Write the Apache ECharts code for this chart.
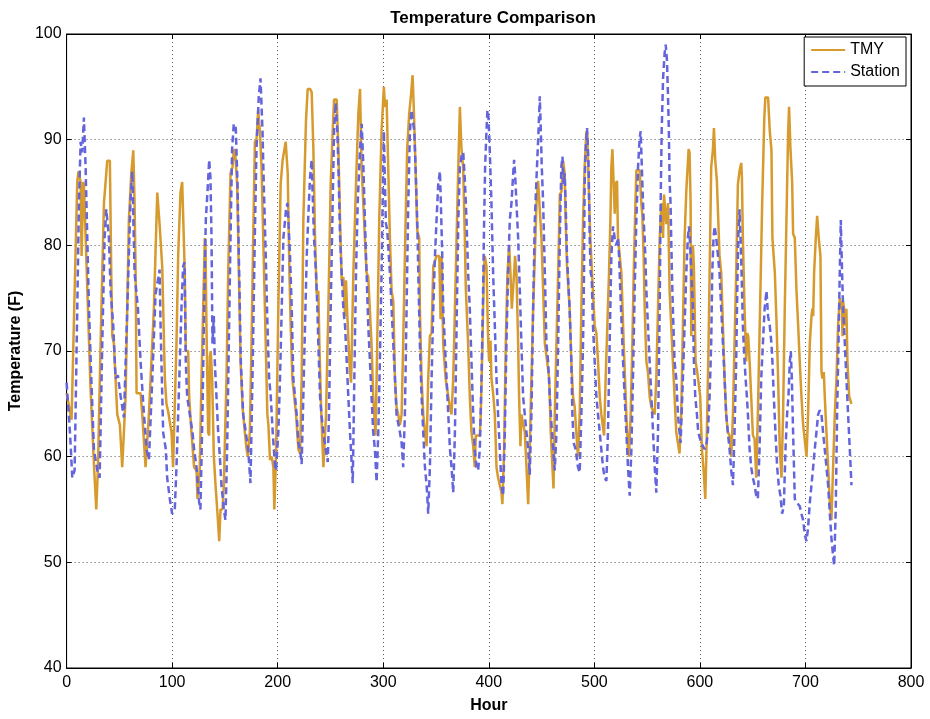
<!DOCTYPE html>
<html>
<head>
<meta charset="utf-8">
<script src="https://cdn.jsdelivr.net/npm/echarts@6/dist/echarts.min.js"></script>
<style>
  html, body { margin: 0; padding: 0; background: #fff; }
  #chart { width: 930px; height: 719px; }
</style>
</head>
<body>
<div id="chart"></div>
<script>
// Hourly dry-bulb temperature for one month: typical meteorological year vs. weather station.
// Each entry is [hour, temperature °F].
const tmy = [
  [0,66],[4.7,63.5],[10.1,86],[11.2,87],[13.3,86],[14.2,79],[15.8,86],[16.4,85.8],[22.7,66.4],[25.9,59.3],
  [28.1,55],[29.7,59],[32.2,70.7],[35.4,84],[38.5,88],[41,88],[42.3,77.4],[43.3,71.4],[44.8,70.7],[48,64],
  [50.5,63],[52.7,59],[54.3,59],[55.9,65.7],[59,82.4],[61.3,86.8],[63.2,89],[64.4,84],[65.4,77.4],[66.3,66],
  [70.1,66],[71.7,64],[74.8,59],[78,64],[82.7,74],[85.9,85],[88.1,82],[90.6,78],[93.1,67.4],[94.6,65],
  [96.2,64.3],[99.4,62.3],[100.9,59],[104.1,70.7],[105.7,79],[107.9,85],[109.5,86],[110.4,86],[112,77.4],[112.9,70],
  [115.2,70],[116.1,65.7],[118.3,62.3],[120.8,59],[123.1,58.7],[124,56],[126.2,59],[127.8,67.4],[129.4,74],[130.9,80.7],
  [131.6,80],[132.5,72.4],[134.1,62.3],[135.1,62],[135.7,69.4],[136.6,70],[137.9,67.4],[139.5,60],[141.1,57.3],[142.7,55],
  [144.6,52],[145.8,55],[147.7,55],[149,57.3],[150.2,62.3],[151.5,67.4],[153.1,77.4],[155.3,86.8],[157.2,87.4],[158.5,89.1],
  [159.7,88.8],[161.6,85.8],[163.2,77.4],[164.8,69],[166.7,64.7],[168.9,62.3],[170.5,60.7],[171.7,60],[173.6,62.3],[175.2,70.7],
  [176.8,80.7],[178.4,89.8],[180,90.1],[181.5,92.8],[183.1,90.8],[184.7,87.4],[186.3,80.7],[187.9,74],[190.2,64],[191.2,63],
  [192.7,59.7],[194.3,60],[195.9,59],[196.8,55],[198.4,60],[200.6,74],[202.8,85.8],[204.7,88.1],[206,88.1],[207.6,89.8],
  [209.5,86.8],[211.1,77.4],[212.3,72.4],[213.9,67.4],[215.5,67.4],[217.4,64],[219.6,60.7],[221.2,60.3],[222.7,67.4],[224.3,82.4],
  [226.8,91.8],[228.4,94.8],[230.6,94.8],[232.2,94.5],[233.8,89.1],[235.4,80.7],[236.9,75.4],[238.5,75.7],[239.5,70.7],[241.1,64.7],
  [242.6,60.7],[243.3,59],[245.8,64],[248,74],[250.2,85.8],[252.1,90.8],[253.4,93.8],[255.9,93.8],[257.5,89.1],[259.1,82.4],
  [260.6,76.7],[262.2,77],[263.8,73.3],[264.7,76.7],[266,73.3],[267.9,69],[269.5,67],[271.7,77.4],[274.2,85.8],[276.4,92.5],
  [278,94.8],[279.5,87.4],[281.1,84],[282.6,80.7],[284.2,77.4],[285.8,77],[287.4,77],[288.9,70.7],[290.5,65.7],[292.7,62],
  [294.3,70.7],[296.2,82.4],[298.4,90.8],[300.6,95],[301.6,93.1],[303.2,93.8],[304.7,87.4],[306.3,80.7],[307.9,75.7],[309.5,74.7],
  [311.1,67.4],[312.6,64.7],[314.2,64],[315.8,63],[317.4,64],[318.9,70.7],[321.2,82.4],[322.7,89.1],[324.6,92.5],[326.2,94.1],
  [327.8,96.1],[329.1,92.5],[330.6,87.4],[332.2,81.4],[334.1,80.7],[334.7,74],[336.3,67.4],[337.9,64],[339.5,62.3],[341.1,61],
  [342.6,67.4],[344.2,71.4],[345.8,71.7],[347.4,78],[349,78],[350.5,79],[353.1,79],[354.3,73],[355.3,79],[356.8,70.7],
  [359.1,67.4],[361.6,65.7],[363.2,64.7],[364.7,64],[366.3,67.4],[367.9,74],[369.5,80.7],[371.1,87.4],[372.6,93.1],[374.1,89.1],
  [375.7,87.4],[377.3,80.7],[378.2,76],[379.5,76],[380.4,70.7],[382,65.7],[383.6,62.3],[385.2,61],[386.7,59],[387.7,62],
  [391.5,62],[392.4,64],[394,70.7],[395.3,77.4],[396.2,79],[397.8,78],[399.4,71],[400.3,69],[401.6,71],[402.5,67.4],
  [404.1,66],[405.7,64],[407.3,59],[408.8,58],[410.4,58],[412,56.6],[412.9,55.5],[414.5,60.7],[416.1,70.7],[417.7,77.4],
  [419.3,80],[420.5,77.4],[421.8,74],[423.1,74],[424,77.4],[424.9,79],[426.2,77.4],[427.8,70.7],[428.7,65.7],[430,61],
  [430.9,64],[432.5,64],[434.1,62.3],[435.7,59],[437.3,55.5],[438.8,60.7],[440.4,67.4],[442,74],[443.6,79],[445.2,84],
  [446.7,86.1],[448.3,86.1],[449.9,80.7],[451.5,75.7],[453.1,70.7],[455.3,69],[457.2,67.4],[458.7,62.3],[460.3,59],[461.3,57],
  [462.5,64],[464.1,70.7],[465.7,77.4],[467.3,84.8],[468.9,85.1],[470.4,88],[471.9,86.8],[472.8,82.4],[474.1,78],[476.6,74],
  [478.2,69],[479.8,65.7],[481.4,64.7],[482.9,62.3],[484.5,60],[486.1,64],[487.7,74],[489.3,82.4],[490.8,87.4],[492.4,90.8],
  [493.4,90.5],[494.6,85.8],[496.2,80.7],[497.8,77.4],[500.3,72.4],[501.9,71.7],[503.5,69],[505.1,65.7],[506.6,64],[508.2,64],
  [509.2,62],[510.7,67.4],[512.3,72.4],[513.9,77.4],[515.2,82.4],[516.1,87.4],[517.1,89.1],[518.3,85.8],[519.3,83],[520.2,85.8],
  [521.5,86.1],[522.4,80.7],[524,80.7],[525.6,77.4],[527.8,70.7],[530.3,64],[531.9,60.7],[532.8,60],[534.4,64],[536,70.7],
  [537.3,77.4],[538.5,82.4],[539.8,87.1],[542.9,87.1],[544.5,84],[545.5,82.8],[546.7,79],[547.7,74],[549.3,69],[550.8,68],
  [552.4,65.7],[554,64.7],[557.2,64],[558.7,67.4],[560.3,74],[561.9,80.7],[563.5,84],[565.1,80.7],[566,84.8],[567.3,84.8],
  [568.2,82],[569.8,84],[571.3,75.7],[572.8,72.4],[574.4,69],[576,65.7],[577.6,62.3],[579.2,61.3],[580.7,60.3],[582.3,64],
  [583.9,72.4],[585.5,80.7],[587.1,85.1],[588,85.1],[589.3,89.1],[590.2,88.8],[591.2,84],[591.8,71.4],[593.4,80],[594.3,78],
  [595.9,69],[597.5,68],[599.1,68],[600.3,65.7],[601.9,60.7],[603.8,58.3],[605.1,56],[606.6,62.3],[608.2,70.7],[609.2,77.4],
  [610.7,87.4],[612.3,89],[613.3,91.1],[614.5,88.1],[616.1,86.1],[617.7,86.1],[618.6,79],[620.2,77.4],[621.8,72.4],[623.4,67.4],
  [624.9,64],[626.5,62.3],[628.1,62],[629.7,60],[631.3,64],[632.8,70.7],[634.4,77.4],[636,85.8],[637.6,87.1],[639.2,87.8],
  [639.8,86.4],[640.7,80.7],[642.3,74],[643.9,69],[644.8,71.7],[645.8,71.4],[647.1,69],[648.6,65.7],[650.2,62],[651.8,61.7],
  [653.4,58],[654.9,64],[657,74],[659,84],[661,92],[662,94],[664.6,94],[666.2,90.8],[667.8,89],[668.7,80.7],
  [670,80.7],[671,77.4],[672.5,73],[674.1,67.4],[675.7,60.7],[677.3,58],[678.8,64],[680.4,74],[682,82.4],[683.6,90.8],
  [684.5,93.1],[685.8,89.1],[687.4,86],[688.3,81.1],[689.9,80.7],[691.5,75.7],[693.1,72.4],[694.6,69],[696.2,65.7],[697.8,63],
  [699.4,63],[701,60],[702.5,64],[704.1,70.7],[705.7,73.3],[706.6,74],[707.3,73.3],[708.2,77.4],[709.8,80.7],[711.1,82.8],
  [712.6,80.7],[714.2,79],[715.2,68],[716.1,67.4],[717.4,68],[718.3,65.7],[719.9,62.3],[721.5,59],[723.1,55.6],[724.6,54],
  [726.2,59],[727.8,64],[729.4,67.4],[730.9,72.4],[732.5,75],[733.5,74],[734.4,74.7],[735.1,71.4],[735.7,74.7],[736.6,74],
  [737.6,72.4],[738.8,74],[739.8,69],[741.4,65.7],[743.6,65]
];

const station = [
  [0,67],[3.2,62.3],[5.4,58],[7.6,58.7],[10.1,74],[11.7,84],[13.3,89.8],[14.8,88.8],[16.4,92.1],[18,87.4],
  [19.6,80.7],[21.2,74],[23.4,67.4],[25.9,60.7],[29.1,58.7],[31.3,58],[33.8,70.7],[36,80.7],[37.6,83.4],[40.1,80.7],
  [41.7,75.7],[44.2,72.4],[46.4,67.4],[48.6,67.7],[51.2,65.7],[54.3,63.7],[57.5,74],[60.6,84.4],[62.2,87],[64.4,77.4],
  [66.3,75.4],[67.6,74],[70.1,69],[73.3,64],[75.8,60.7],[78,59.7],[81.2,67.4],[84.3,75.4],[86.5,76.7],[88.1,77.7],
  [89.1,72],[91.5,62.3],[94,60.7],[95.3,58],[97.8,56],[100,54.6],[102.5,55],[104.1,59],[105.7,64],[107.3,69],
  [108.8,74],[110.4,78],[111.7,78.4],[112.3,74],[112.9,69],[114.2,65.7],[116.7,64],[119.3,62.3],[120.8,60.7],[123.1,59],
  [125.6,55.7],[126.8,55],[128.7,64],[130.3,74],[131.9,82.4],[133.5,85.1],[135.1,88.1],[136.3,86.4],[137.3,80.7],[137.9,74],
  [138.2,70.7],[139.5,73.3],[140.4,69],[142,65.7],[143.6,62.3],[145.2,60],[146.7,57.3],[149,55],[150.5,54],[152.1,60.7],
  [153.7,70.7],[155.3,80.7],[156.8,89.1],[158.4,91.5],[160.3,91.1],[161.9,85.8],[163.5,77.4],[165.1,69],[167.3,64],[169.8,62.3],
  [172,60.7],[174.2,57.5],[176.1,67.4],[178.3,80.7],[179.9,89.1],[182.1,94.1],[183.7,95.8],[185.6,90.8],[186.8,85.8],[188.7,79],
  [190.3,72.4],[191.9,67.4],[193.4,65.7],[195.3,62.3],[197.5,59],[198.4,58.7],[200.6,62.3],[202.2,67.4],[203.8,74],[205.4,80.7],
  [207.9,83.4],[209.2,84],[210.1,82.4],[211.7,79],[213.3,74],[214.8,67.4],[216.4,65.7],[218,64],[219.6,61.3],[221.2,60.7],
  [222.7,59.3],[224.3,65.7],[225.9,72.4],[227.5,79],[229.1,83],[230.6,86.4],[232.2,88.1],[232.8,85.8],[234.4,80.7],[236.3,77.4],
  [237.6,74],[238.5,70.7],[240.1,65.7],[241.7,63.7],[243.3,62.3],[245.5,60.7],[247.4,59.5],[248.6,64],[250.2,74],[252.1,84],
  [253.4,90.8],[254.9,93.5],[256.5,90.8],[257.8,86.4],[259.1,80.7],[260.6,77.4],[262.2,74],[263.8,72.4],[265.4,69],[266.9,65.7],
  [268.5,62.3],[271.1,57.5],[272.6,67.4],[274.2,77.4],[275.8,84],[278,89.1],[279.6,91.5],[281.2,87.4],[282.6,82.4],[284.2,77.4],
  [285.8,72.4],[287.4,69],[288.9,65.7],[290.5,62.3],[292.1,60.7],[293.7,57.6],[295.3,62.3],[296.8,69],[298.4,77.4],[299.4,84],
  [300.6,90.8],[301.6,85.8],[302.5,82.1],[303.8,81.4],[306.3,77.4],[309.5,70.7],[311.1,67.4],[312.6,64],[315.8,62.3],[317.4,61.3],
  [318.9,59],[320.5,64],[322.1,74],[323.7,84],[325.3,90.8],[326.8,92.8],[329.4,90.8],[330.6,87.4],[332.2,82.4],[333.2,77.4],
  [334.7,70.7],[336.3,65.7],[337.9,62.3],[339.5,59],[341.1,57.3],[342.6,54.6],[344.2,59],[345.8,67.4],[347.4,74],[349,79],
  [350.5,82.4],[352.1,85.8],[353.7,87],[354.6,84],[355.9,79],[356.8,74],[358.4,70.7],[360,67.4],[361.6,64],[363.2,60.7],
  [364.7,59],[366.3,56.6],[367.9,62.3],[369.5,72.4],[371.1,82.4],[372.6,87.4],[374.2,88.5],[375.8,88.8],[377.4,86],[378.9,82.4],
  [380.4,77.4],[382,74],[383.6,69],[385.2,64],[386.7,60.7],[388.3,59],[389.9,58.7],[391.5,60.7],[393.1,67.4],[394.6,75.7],
  [395.6,82.4],[396.5,87.4],[397.8,90.8],[398.7,92.8],[399.7,92.1],[400.9,89.1],[402.5,84],[404.1,77.4],[405.7,72.4],[407.3,67.4],
  [408.8,64],[410.4,60.7],[412,57.3],[413.6,56.3],[415.2,62.3],[416.7,70.7],[418.3,77.4],[419.9,82.4],[421.5,84],[423.1,86.8],
  [424,88.1],[424.9,86.8],[426.2,84],[427.8,80.7],[429.4,75.7],[430.9,70.7],[432.5,65.7],[434.1,64],[435.7,62.3],[437.3,60.7],
  [438.8,58.3],[440.4,64],[442,74],[443.6,82.4],[445.2,86.4],[446.1,86.4],[447.1,90.8],[448.3,94.1],[449.3,90.8],[450.2,87.4],
  [451.5,84],[453.1,77.4],[454.6,70.7],[456.2,69],[457.8,65.7],[459.4,63],[461,60.7],[462.5,58.7],[464.1,62.3],[465.7,70.7],
  [467.3,80.7],[468.7,87.4],[469.8,88.4],[470.9,85.8],[471.9,86.8],[472.8,84],[474.1,79],[476.6,74],[478.2,69],[479.2,64],
  [480.4,61.3],[482.3,60.7],[484.5,59],[486.1,58.5],[487.7,64],[489.3,70.7],[490.2,77.4],[490.8,85.8],[491.8,89.1],[493.1,91.1],
  [494.6,87.4],[495.6,80.7],[496.5,77.4],[497.5,77],[498.7,72.4],[500.3,69],[501.9,65.7],[503.5,64],[505.1,62.3],[506.6,60.7],
  [508.2,59],[509.8,58],[511.4,57.7],[512.9,62.3],[514.5,70.7],[516.1,79],[517.7,81.8],[519.3,80.7],[520.8,80],[522.4,80.7],
  [523.4,79],[524.6,75.7],[525.9,72.4],[527.2,69],[528.7,65.7],[530.3,62.3],[531.9,59],[533.5,56.3],[535.1,60.7],[536.6,67.4],
  [538.2,75.7],[539.8,82.4],[541.4,87.4],[542.9,90.1],[543.9,90.8],[545.5,85.8],[546.7,82.4],[547.7,80.7],[549.3,75.7],[550.8,72.4],
  [552.4,69],[554,65.7],[555.6,62.3],[557.2,59],[558.7,56.6],[560.3,62.3],[561.9,74],[562.8,84],[563.8,90.8],[565.1,95.8],
  [566.6,98.2],[567.6,99],[568.8,97.5],[569.8,94.1],[570.6,90.8],[571.3,86],[572.2,84],[572.8,80.7],[573.5,77.4],[574.4,74],
  [576,69],[577.6,67.4],[579.2,64],[580.7,62.3],[581.7,61.3],[583.9,67.4],[585.5,72.4],[587.1,77.4],[588.6,80.7],[589.6,81.8],
  [590.8,80],[591.8,77.4],[593.4,74],[594.3,69],[595.6,65.7],[597.2,64],[598.4,62.3],[601.3,61.3],[604.4,60.7],[606,61],
  [607.6,62.3],[609.2,65.7],[610.7,70.7],[611.7,77.4],[612.9,80.7],[613.9,81.8],[615.5,80.7],[617.1,79],[618.6,77.4],[620.2,74],
  [621.8,70.7],[623.4,67.4],[624.9,64],[626.5,62.3],[628.1,60.7],[629.7,58.7],[631.3,57.3],[632.8,62.3],[634.4,69],[635.4,75.7],
  [636.3,80.7],[637.6,83.4],[638.5,80.7],[639.5,77.4],[640.7,72.4],[642.3,69],[643.3,67.4],[644.5,65.7],[645.5,64],[647.1,60.7],
  [648.6,59],[650.2,58],[651.8,57.3],[653.4,56.3],[654.9,56],[656.5,60.7],[658.1,67.4],[659.7,70.7],[661.3,74],[663.1,75.7],
  [664.6,73.3],[666.2,72.4],[667.8,70.7],[668.7,69],[670,65.7],[671.6,62.3],[673.2,59],[674.7,57.3],[676.3,56.3],[677.9,54.6],
  [679.5,55.3],[681.1,60.7],[682.6,64],[683.9,65.7],[685.2,69],[686.1,70],[687.1,67.4],[688.3,62.3],[689.9,56],[691.5,55.7],
  [693.1,55.6],[694.6,55.3],[696.2,54.6],[697.8,54],[699.4,52.6],[701,52],[702.5,53.3],[704.1,55.6],[705.7,57.3],[707.3,59],
  [708.8,60.7],[710.4,62.3],[712,64],[713.6,64.4],[715.2,64],[716.7,62.3],[718.3,60.7],[719.9,59],[721.5,57.3],[723.1,54.6],
  [724.6,52.3],[726.2,50.6],[727.2,49.7],[728.7,55],[730,64],[731.3,70.7],[732.5,77.4],[733.5,82.4],[734.7,77.4],[735.7,74],
  [737.3,70.7],[738.8,67.4],[740.4,64],[742,60.7],[743.6,57.3]
];

// Axis ranges and tick spacing
const xTicks = { min: 0, max: 800, step: 100 };
const yTicks = { min: 40, max: 100, step: 10 };

const FONT = '"Liberation Sans", Arial, Helvetica, sans-serif';
const TMY_COLOR = '#D69A2D';
const STATION_COLOR = '#6464DC';

const chart = echarts.init(document.getElementById('chart'), null, { renderer: 'canvas' });

const tickStyle = { inside: true, length: 5, lineStyle: { color: '#000', width: 1 } };
const gridDots = { show: true, lineStyle: { color: '#555', width: 1, type: [1, 3] } };
const nameStyle = { fontFamily: FONT, fontSize: 16, fontWeight: 'bold', color: '#000' };
const labelStyle = { fontFamily: FONT, fontSize: 16, color: '#000' };

chart.setOption({
  animation: false,
  backgroundColor: '#fff',
  textStyle: { fontFamily: FONT },
  title: {
    text: 'Temperature Comparison',
    left: 488,
    top: 5,
    textAlign: 'center',
    textStyle: { fontFamily: FONT, fontSize: 17, fontWeight: 'bold', color: '#000' }
  },
  legend: {
    data: ['TMY', 'Station'],
    orient: 'vertical',
    right: 24,
    top: 37,
    backgroundColor: '#fff',
    borderColor: '#000',
    borderWidth: 1,
    padding: [5, 6, 6, 6],
    itemGap: 6,
    itemWidth: 34,
    itemHeight: 16,
    itemStyle: { opacity: 0 },
    textStyle: { fontFamily: FONT, fontSize: 16, color: '#000' }
  },
  grid: {
    left: 66, right: 19, top: 34, bottom: 45,
    show: true, borderColor: '#000', borderWidth: 1, backgroundColor: '#fff'
  },
  xAxis: [
    {
      type: 'value', min: xTicks.min, max: xTicks.max, interval: xTicks.step,
      name: 'Hour', nameLocation: 'middle', nameGap: 30, nameTextStyle: nameStyle,
      axisLine: { show: true, onZero: false, lineStyle: { color: '#000', width: 1 } },
      axisTick: tickStyle,
      axisLabel: Object.assign({ margin: 7 }, labelStyle),
      splitLine: gridDots
    },
    {
      type: 'value', position: 'top', min: xTicks.min, max: xTicks.max, interval: xTicks.step,
      axisLine: { show: true, onZero: false, lineStyle: { color: '#000', width: 1 } },
      axisTick: tickStyle, axisLabel: { show: false }, splitLine: { show: false }
    }
  ],
  yAxis: [
    {
      type: 'value', min: yTicks.min, max: yTicks.max, interval: yTicks.step,
      name: 'Temperature (F)', nameLocation: 'middle', nameGap: 35, nameRotate: 90,
      nameTextStyle: nameStyle,
      axisLine: { show: true, onZero: false, lineStyle: { color: '#000', width: 1 } },
      axisTick: tickStyle,
      axisLabel: Object.assign({ margin: 5 }, labelStyle),
      splitLine: gridDots
    },
    {
      type: 'value', position: 'right', min: yTicks.min, max: yTicks.max, interval: yTicks.step,
      axisLine: { show: true, onZero: false, lineStyle: { color: '#000', width: 1 } },
      axisTick: tickStyle, axisLabel: { show: false }, splitLine: { show: false }
    }
  ],
  series: [
    {
      name: 'TMY', type: 'line', data: tmy,
      symbol: 'none', showSymbol: false,
      lineStyle: { color: TMY_COLOR, width: 2.5 },
      itemStyle: { color: TMY_COLOR },
      z: 2
    },
    {
      name: 'Station', type: 'line', data: station,
      symbol: 'none', showSymbol: false,
      lineStyle: { color: STATION_COLOR, width: 2.5, type: [7, 4] },
      itemStyle: { color: STATION_COLOR },
      z: 3
    }
  ]
});
</script>
</body>
</html>
